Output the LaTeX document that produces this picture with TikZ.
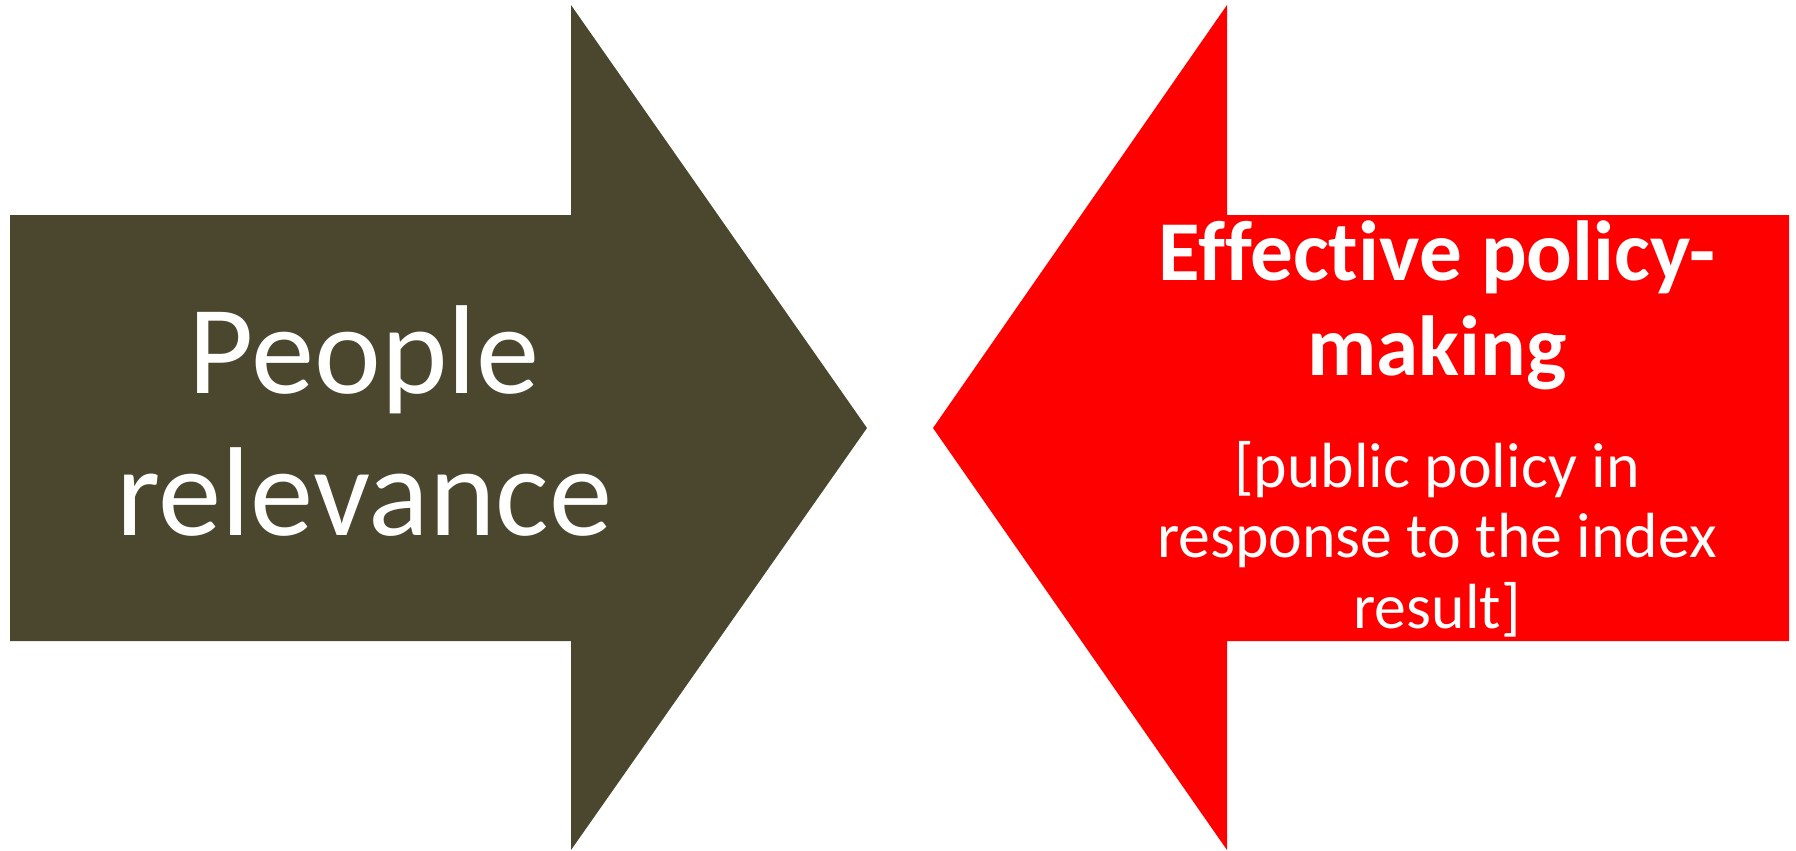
\documentclass[tikz,border=0pt]{standalone}
\usepackage{fontspec}
\setmainfont{Carlito}[Ligatures=NoCommon]
\definecolor{olive}{RGB}{75,70,46}
\definecolor{alarm}{RGB}{255,0,0}
\tikzset{
  bigtext/.style={text=white,align=center,inner sep=0pt,anchor=base},
}
\begin{document}
\begin{tikzpicture}[x=0.02cm,y=-0.02cm]
\useasboundingbox (0,0) rectangle (1796,850);
% left arrow
\fill[olive] (10,215) -- (571,215) -- (571,5) -- (867,428) -- (571,850) -- (571,641) -- (10,641) -- cycle;
% right arrow
\fill[alarm] (1789,215) -- (1227,215) -- (1227,5) -- (933,428) -- (1227,850) -- (1227,641) -- (1789,641) -- cycle;
% text (anchored at the last baseline)
\node[bigtext,font=\fontsize{72}{80.8}\selectfont] (people) at (364,535) {People\\relevance};
\node[bigtext,font=\bfseries\fontsize{48.5}{54}\selectfont] (policy) at (1437,375) {Effective policy-\\making};
\node[bigtext,font=\fontsize{36.3}{40.1}\selectfont] (response) at (1437,628) {[public policy in\\response to the index\\result]};
\end{tikzpicture}
\end{document}
